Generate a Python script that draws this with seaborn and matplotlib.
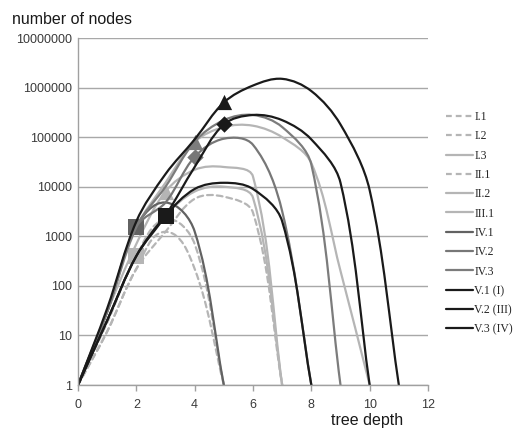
import numpy as np
import pandas as pd
import matplotlib
matplotlib.use("Agg")
import matplotlib.pyplot as plt
import seaborn as sns
from matplotlib.path import Path
from matplotlib.patches import PathPatch
from matplotlib.lines import Line2D
from matplotlib.ticker import FuncFormatter, NullLocator

# number of nodes per tree depth (depth = list index)
I_1 = [1, 12, 220, 1230, 220, 1]
I_2 = [1, 18, 400, 2200, 700, 1]
I_3 = [1, 30, 700, 8000, 22000, 25000, 16000, 1]
II_1 = [1, 12, 220, 1230, 5700, 6300, 3000, 1]
II_2 = [1, 20, 400, 2600, 8000, 10000, 6000, 1]
III_1 = [1, 30, 1500, 12000, 80000, 160000, 170000, 100000, 30000, 200, 1]
IV_1 = [1, 30, 1550, 4800, 1250, 1]
IV_2 = [1, 30, 1550, 4800, 40000, 93000, 70000, 3200, 1]
IV_3 = [1, 30, 1550, 10000, 81000, 220000, 280000, 160000, 28000, 1]
V_1 = [1, 20, 400, 2600, 9000, 12000, 9000, 2000, 1]
V_2 = [1, 20, 400, 2600, 25000, 180000, 280000, 220000, 90000, 12000, 1]
V_3 = [1, 35, 2000, 18000, 90000, 500000, 1100000, 1500000, 850000, 180000, 8500, 1]

labels = ['I.1', 'I.2', 'I.3', 'II.1', 'II.2', 'III.1',
          'IV.1', 'IV.2', 'IV.3', 'V.1 (I)', 'V.2 (III)', 'V.3 (IV)']
values = [I_1, I_2, I_3, II_1, II_2, III_1, IV_1, IV_2, IV_3, V_1, V_2, V_3]

# highlighted points: series label -> depth
marked_label = ['I.2', 'I.3', 'IV.1', 'IV.2', 'IV.3', 'V.1 (I)', 'V.2 (III)', 'V.3 (IV)']
marked_depth = [2, 3, 2, 4, 4, 3, 5, 5]

LIGHT = '#b5b5b5'
colors = [LIGHT, LIGHT, LIGHT, LIGHT, LIGHT, LIGHT,
          '#626262', '#777777', '#7c7c7c', '#1a1a1a', '#1a1a1a', '#1a1a1a']
styles = [(0, (2.6, 1.8)), (0, (2.6, 1.8)), '-', (0, (2.6, 1.8)), '-', '-',
          '-', '-', '-', '-', '-', '-']
marker_style = {'I.2': 's', 'I.3': '^', 'IV.1': 's', 'IV.2': 'D', 'IV.3': '^',
                'V.1 (I)': 's', 'V.2 (III)': 'D', 'V.3 (IV)': '^'}

# rough screen scale of the axes (px per depth unit, px per decade),
# only used to shape the smoothing arms like a spreadsheet does
PX_X, PX_Y = 29.2, 49.6


def smooth_path(vals):
    # smoothed line: bezier segments with arms along the neighbour chord,
    # arm length tied to the segment length so steep drops don't bulge
    x = np.arange(len(vals), dtype=float) * PX_X
    y = np.log10(np.asarray(vals, dtype=float)) * PX_Y
    p = np.column_stack([x, y])
    n = len(p)
    verts = [p[0]]
    codes = [Path.MOVETO]
    for i in range(n - 1):
        seg = np.linalg.norm(p[i + 1] - p[i])
        t0 = p[i + 1] - p[max(i - 1, 0)]
        t1 = p[min(i + 2, n - 1)] - p[i]
        c1 = p[i] + t0 / np.linalg.norm(t0) * seg / 3
        c2 = p[i + 1] - t1 / np.linalg.norm(t1) * seg / 3
        verts += [c1, c2, p[i + 1]]
        codes += [Path.CURVE4] * 3
    v = np.array(verts)
    v[:, 0] = v[:, 0] / PX_X
    v[:, 1] = 10 ** (v[:, 1] / PX_Y)
    return Path(v, codes)


sns.set_style("white")
plt.rcParams['font.family'] = ['Liberation Sans', 'DejaVu Sans']

fig = plt.figure(figsize=(5.21, 4.30), dpi=100)
ax = fig.add_axes([78 / 521, 1 - 385 / 430, 350 / 521, 347 / 430])
ax.set_yscale('log')
ax.set_xlim(0, 12)
ax.set_ylim(1, 1e7)

handles = []
for i, (lab, vals) in enumerate(zip(labels, values)):
    z = 2 + i * 0.01
    patch = PathPatch(smooth_path(vals), fill=False, edgecolor=colors[i], lw=1.6,
                      linestyle=styles[i], capstyle='round', joinstyle='round',
                      transform=ax.transData, zorder=z)
    ax.add_patch(patch)
    if lab in marked_label:
        d = marked_depth[marked_label.index(lab)]
        pts = pd.DataFrame({'depth': [d], 'nodes': [vals[d]]})
        m = marker_style[lab]
        sns.scatterplot(data=pts, x='depth', y='nodes', marker=m, color=colors[i],
                        s=70 if m == 'D' else 120, linewidth=0, ax=ax,
                        zorder=z + 0.005, legend=False)
    handles.append(Line2D([], [], color=colors[i], lw=1.6, linestyle=styles[i]))

ax.set_xticks(range(0, 13, 2))
ax.set_yticks([10 ** k for k in range(8)])
ax.yaxis.set_minor_locator(NullLocator())
ax.yaxis.set_major_formatter(FuncFormatter(lambda v, p: f"{int(round(v))}"))
ax.set_xlabel('')
ax.set_ylabel('')
ax.grid(axis='y', color='#a8a8a8', lw=1)
ax.grid(axis='x', visible=False)
for s in ['top', 'right']:
    ax.spines[s].set_visible(False)
for s in ['left', 'bottom']:
    ax.spines[s].set_color('#a0a0a0')
    ax.spines[s].set_linewidth(1)
ax.tick_params(axis='x', length=4, width=1, color='#a0a0a0', labelsize=9,
               labelcolor='#3a3a3a', pad=6, direction='out', bottom=True)
ax.tick_params(axis='y', length=0, labelsize=9, labelcolor='#3a3a3a', pad=4)

fig.text(12 / 521, 1 - 19 / 430, 'number of nodes', fontsize=11.5, va='center',
         ha='left', color='#1a1a1a')
fig.text(331 / 521, 1 - 420 / 430, 'tree depth', fontsize=11.5, va='center',
         ha='left', color='#1a1a1a')

fig.legend(handles, labels, loc='upper left', bbox_to_anchor=(446 / 521, 1 - 111 / 430),
           frameon=False, prop={'family': ['Liberation Serif', 'DejaVu Serif'], 'size': 8.5},
           handlelength=2.3, handletextpad=0.1, labelspacing=0.62,
           borderpad=0, borderaxespad=0)

fig.savefig('out.png', dpi=100)
